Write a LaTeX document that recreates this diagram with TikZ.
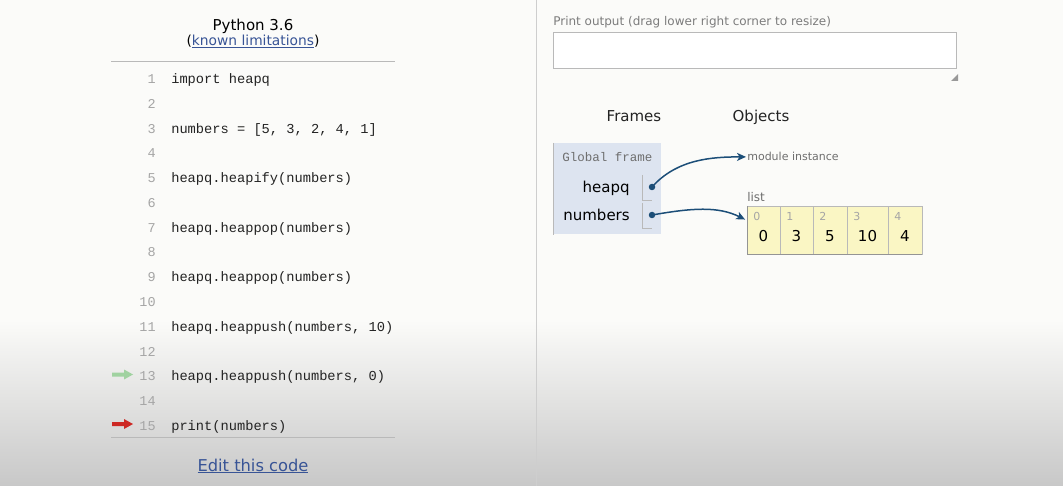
\documentclass[tikz,border=0pt]{standalone}
\usepackage{fontspec}
\setmainfont{DejaVu Sans}
\setmonofont{Liberation Mono}
\usepackage{xcolor}
\usetikzlibrary{arrows,arrows.meta}
\usetikzlibrary{calc}
\usetikzlibrary{positioning}

\definecolor{linkblue}{RGB}{56,84,150}
\definecolor{codegray}{RGB}{35,35,35}
\definecolor{numgray}{RGB}{165,165,165}
\definecolor{labgray}{RGB}{110,110,110}
\definecolor{framebg}{RGB}{221,228,240}
\definecolor{ptrblue}{RGB}{28,78,120}
\definecolor{listbg}{RGB}{250,246,196}
\definecolor{bgtop}{RGB}{251,251,249}
\definecolor{bgbot}{RGB}{200,200,200}
\definecolor{rulegray}{RGB}{185,185,185}
\definecolor{stepgreen}{RGB}{160,210,160}
\definecolor{stepred}{RGB}{205,40,35}

\begin{document}
\begin{tikzpicture}[x=1pt,y=-1pt,>={Stealth[length=9pt,width=8pt,inset=2.5pt]},semithick,node distance=0pt]
 \tikzstyle{code}=[anchor=base west,inner sep=0pt,text=codegray,font=\ttfamily\fontsize{13.7}{16}\selectfont]
 \tikzstyle{lnum}=[anchor=base east,inner sep=0pt,text=numgray,font=\ttfamily\fontsize{13.5}{16}\selectfont]
 \tikzstyle{txt}=[inner sep=0pt,font=\fontsize{15}{18}\selectfont]
 \tikzstyle{small}=[anchor=base west,inner sep=0pt,text=labgray,font=\fontsize{12}{14}\selectfont]
 \tikzstyle{cell}=[draw=rulegray,thin,fill=listbg,outer sep=0pt,minimum height=48pt,inner sep=0pt]
 \tikzstyle{idx}=[anchor=base west,inner sep=0pt,text=numgray,font=\fontsize{11}{13}\selectfont]
 \tikzstyle{val}=[anchor=base,inner sep=0pt,font=\fontsize{15}{18}\selectfont]
 \tikzstyle{dot}=[circle,fill=ptrblue,inner sep=0pt,minimum size=6.5pt]
 \tikzstyle{slot}=[draw=rulegray,thin]
 \tikzstyle{ptr}=[->,draw=ptrblue,fill=ptrblue,line width=1.5pt,shorten >=1pt]

 % page
 \useasboundingbox (0,0) rectangle (1063,486);
 \fill[bgtop] (0,0) rectangle (1063,486);
 \shade[top color=bgtop,bottom color=bgbot] (0,320) rectangle (1063,486);
 \draw[rulegray!70,thick] (536,0) -- (536,486);

 % code panel
 \node[txt,anchor=base] (title) at (253,30.5) {Python 3.6};
 \node[txt,anchor=base,font=\fontsize{13.8}{16}\selectfont] (limits) at (253,46) {({\color{linkblue}\underline{known limitations}})};
 \draw[rulegray,thick] (111,61) -- (395,61);

 \node[lnum] (ln1)  at (156,83.5)  {1};
 \node[lnum] (ln2)  at (156,108.3) {2};
 \node[lnum] (ln3)  at (156,133.1) {3};
 \node[lnum] (ln4)  at (156,157.9) {4};
 \node[lnum] (ln5)  at (156,182.7) {5};
 \node[lnum] (ln6)  at (156,207.5) {6};
 \node[lnum] (ln7)  at (156,232.2) {7};
 \node[lnum] (ln8)  at (156,257.0) {8};
 \node[lnum] (ln9)  at (156,281.8) {9};
 \node[lnum] (ln10) at (156,306.6) {10};
 \node[lnum] (ln11) at (156,331.4) {11};
 \node[lnum] (ln12) at (156,356.2) {12};
 \node[lnum] (ln13) at (156,381.0) {13};
 \node[lnum] (ln14) at (156,405.8) {14};
 \node[lnum] (ln15) at (156,430.6) {15};

 \node[code] (cd1)  at (171,83.5)  {import heapq};
 \node[code] (cd3)  at (171,133.1) {numbers = [5, 3, 2, 4, 1]};
 \node[code] (cd5)  at (171,182.7) {heapq.heapify(numbers)};
 \node[code] (cd7)  at (171,232.2) {heapq.heappop(numbers)};
 \node[code] (cd9)  at (171,281.8) {heapq.heappop(numbers)};
 \node[code] (cd11) at (171,331.4) {heapq.heappush(numbers, 10)};
 \node[code] (cd13) at (171,381.0) {heapq.heappush(numbers, 0)};
 \node[code] (cd15) at (171,430.6) {print(numbers)};

 % step markers
 \fill[stepgreen] (112,372.5) -- (124,372.5) -- (124,369.5) -- (133,374.5) -- (124,379.5) -- (124,376.5) -- (112,376.5) -- cycle;
 \fill[stepred] (112,422) -- (124,422) -- (124,419) -- (133,424) -- (124,429) -- (124,426) -- (112,426) -- cycle;

 \draw[rulegray,thick] (111,437) -- (395,437);
 \node[txt,anchor=base,text=linkblue,font=\fontsize{16.3}{19}\selectfont] (edit) at (253,471) {\underline{Edit this code}};

 % output panel
 \node[small,text=labgray!90] (plabel) at (553,26) {Print output (drag lower right corner to resize)};
 \draw[rulegray,fill=white] (553,32) rectangle (956,68);
 \fill[gray!80] (958,74) -- (958,81) -- (951,81) -- cycle;

 \node[txt,anchor=base,text=codegray] (frames)  at (634,122) {Frames};
 \node[txt,anchor=base,text=codegray] (objects) at (761,122) {Objects};

 % global frame
 \node[fill=framebg,anchor=north west,minimum width=108pt,minimum height=91pt,inner sep=0pt] (gframe) at (553,143) {};
 \draw[rulegray] (gframe.north west) -- (gframe.south west);
 \node[anchor=base west,inner sep=0pt,text=labgray,font=\ttfamily\fontsize{12.5}{15}\selectfont] (gtitle) at (562,162) {Global frame};
 \node[txt,anchor=base east] (vhq)  at (630,193) {heapq};
 \node[txt,anchor=base east] (vnum) at (630,221) {numbers};
 \draw[slot] (642,175) |- (652,200);
 \draw[slot] (642,203) |- (652,228);
 \node[dot] (dhq)  at (652,187) {};
 \node[dot] (dnum) at (652,215) {};

 % objects
 \node[anchor=base west,inner sep=0pt,text=labgray,font=\fontsize{11}{13}\selectfont] (mod) at (747,161) {module instance};
 \node[small] (ltag) at (747,202) {list};
 \node[cell,minimum width=33pt] (c0) at (763.5,230) {};
 \node[cell,minimum width=33pt,right=of c0] (c1) {};
 \node[cell,minimum width=34pt,right=of c1] (c2) {};
 \node[cell,minimum width=41pt,right=of c2] (c3) {};
 \node[cell,minimum width=34pt,right=of c3] (c4) {};
 \draw[rulegray!80!black,thick] (c0.north west) -- (c0.south west) -- (c4.south east);
 \node[idx] (i0) at ($(c0.north west)+(6,15)$) {0};
 \node[idx] (i1) at ($(c1.north west)+(6,15)$) {1};
 \node[idx] (i2) at ($(c2.north west)+(6,15)$) {2};
 \node[idx] (i3) at ($(c3.north west)+(6,15)$) {3};
 \node[idx] (i4) at ($(c4.north west)+(6,15)$) {4};
 \node[val] (v0) at ($(c0.south)+(0,-12)$) {0};
 \node[val] (v1) at ($(c1.south)+(0,-12)$) {3};
 \node[val] (v2) at ($(c2.south)+(0,-12)$) {5};
 \node[val] (v3) at ($(c3.south)+(0,-12)$) {10};
 \node[val] (v4) at ($(c4.south)+(0,-12)$) {4};
 \coordinate (lin) at ($(c0.north west)+(-1,14)$);

 \draw[ptr,fill=none] (dhq.center) .. controls +(25,-28) and +(-35,0) .. (mod.west);
 \draw[ptr,fill=none] (dnum.center) .. controls +(40,-7) and +(-28,-14) .. (lin);
\end{tikzpicture}
\end{document}
